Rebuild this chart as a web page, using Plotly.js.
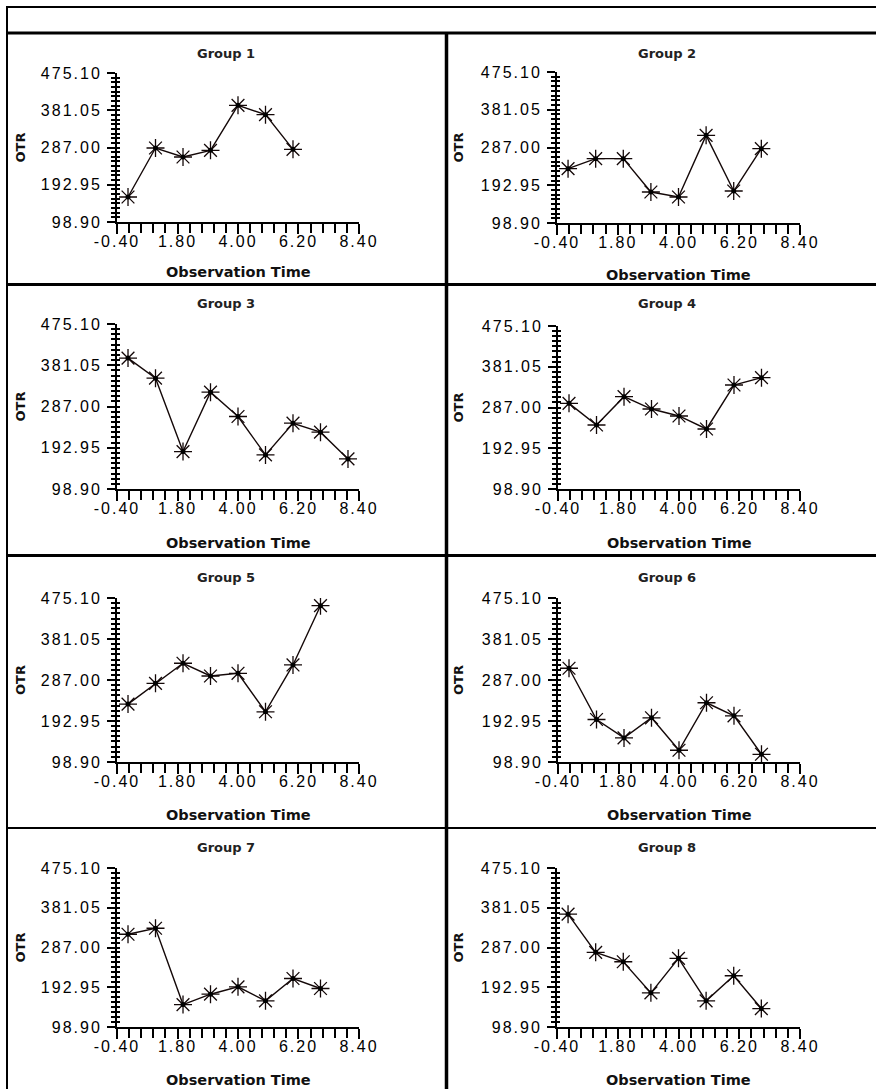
<!DOCTYPE html>
<html>
<head>
<meta charset="utf-8">
<script src="https://cdn.plot.ly/plotly-3.0.1.min.js"></script>
<style>
  html, body { margin: 0; padding: 0; background: #fff; }
  #chart { width: 876px; height: 1089px; }
  g[class$="tick"] text { letter-spacing: 2px; }
</style>
</head>
<body>
<div id="chart"></div>
<script>
// ---- data ----
const obsTime = [0, 1, 2, 3, 4, 5, 6, 7, 8];
const groupNames = ["Group 1", "Group 2", "Group 3", "Group 4", "Group 5", "Group 6", "Group 7", "Group 8"];
const group1 = [162.0, 285.7, 263.0, 279.8, 393.5, 369.9, 282.4];
const group2 = [234.3, 259.2, 259.2, 176.1, 163.7, 317.3, 178.6, 284.1];
const group3 = [397.4, 351.7, 184.2, 319.7, 264.2, 176.6, 248.9, 228.4, 167.4];
const group4 = [296.6, 246.6, 312.0, 283.5, 267.4, 237.4, 338.9, 355.9];
const group5 = [231.7, 279.3, 325.4, 296.2, 302.4, 214.1, 321.5, 457.5];
const group6 = [313.9, 196.4, 154.2, 200.3, 125.8, 234.8, 204.9, 116.6];
const group7 = [318.3, 332.5, 152.0, 176.5, 193.9, 160.7, 213.7, 190.0];
const group8 = [365.8, 275.5, 253.3, 179.7, 261.3, 160.7, 220.1, 142.5];
const xTickVals = [-0.4, 1.8, 4.0, 6.2, 8.4];
const xTickText = ["-0.40", "1.80", "4.00", "6.20", "8.40"];
const yTickVals = [98.90, 192.95, 287.00, 381.05, 475.10];
const yTickText = ["98.90", "192.95", "287.00", "381.05", "475.10"];
const xTitle = "Observation Time";
const yTitle = "OTR";

const groups = [group1, group2, group3, group4, group5, group6, group7, group8];

// ---- layout geometry (pixels) ----
const W = 876, H = 1089;
// plot areas: [left, right, top, bottom]
const areas = [
  [117, 359, 73, 222], [557, 800, 72, 223],
  [117, 359, 324, 489], [558, 800, 326, 489],
  [117, 359, 598, 762], [558, 800, 598, 762],
  [117, 359, 868, 1027], [557, 800, 868, 1027]
];
// title centres [x, y], x-title y, y-title x
const titlePos = [
  [226, 53], [667, 53], [226, 303], [667, 303],
  [226, 577], [667, 577], [226, 847], [667, 847]
];
const xTitleY = [272, 275, 543, 543, 815, 815, 1080, 1080];
const yTitleX = [20, 458, 20, 458, 20, 458, 20, 458];

const px = x => x / W;
const py = y => 1 - y / H;

const traces = [];
const layout = {
  width: W, height: H,
  margin: {l: 0, r: 0, t: 0, b: 0},
  paper_bgcolor: "#fff", plot_bgcolor: "rgba(0,0,0,0)",
  showlegend: false,
  font: {family: "Liberation Sans, Arial, sans-serif", color: "#000", size: 16},
  annotations: [], shapes: []
};

const xRange = [xTickVals[0] - 0.0005, xTickVals[xTickVals.length - 1] + 0.0005];
const yRange = [yTickVals[0] - 0.02, yTickVals[yTickVals.length - 1] + 0.02];
const tickFont = {family: "Liberation Sans, Arial, sans-serif", size: 16, color: "#000"};

groups.forEach((vals, i) => {
  const n = i + 1;
  const [l, r, t, b] = areas[i];
  const xs = obsTime.slice(0, vals.length);
  traces.push({
    x: xs, y: vals, xaxis: "x" + n, yaxis: "y" + n,
    mode: "lines+markers", type: "scatter",
    line: {color: "#140808", width: 1.4},
    marker: {symbol: "asterisk-open", size: 15, line: {color: "#140808", width: 1.3}},
    hoverinfo: "skip"
  });
  traces.push({
    x: xs, y: vals, xaxis: "x" + n, yaxis: "y" + n,
    mode: "markers", type: "scatter",
    marker: {symbol: "circle", size: 5, color: "#000"},
    hoverinfo: "skip"
  });
  layout["xaxis" + n] = {
    domain: [px(l), px(r)], anchor: "y" + n, range: xRange,
    tickmode: "array", tickvals: xTickVals, ticktext: xTickText,
    ticks: "outside", ticklen: 10, tickwidth: 2, tickcolor: "#000",
    minor: {tick0: -0.4, dtick: 0.44, ticks: "outside", ticklen: 9, tickwidth: 2, tickcolor: "#000"},
    showline: true, linecolor: "#000", linewidth: 2,
    showgrid: false, zeroline: false, fixedrange: true,
    ticklabelstandoff: -6,
    tickfont: tickFont
  };
  layout["yaxis" + n] = {
    domain: [py(b), py(t)], anchor: "x" + n, range: yRange,
    tickmode: "array", tickvals: yTickVals, ticktext: yTickText,
    ticks: "outside", ticklen: 8, tickwidth: 2, tickcolor: "#000",
    minor: {tick0: 98.9, dtick: 94.05 / 8, ticks: "outside", ticklen: 4, tickwidth: 2, tickcolor: "#000"},
    showline: true, linecolor: "#000", linewidth: 2,
    showgrid: false, zeroline: false, fixedrange: true,
    ticklabelstandoff: 2,
    tickfont: tickFont
  };
  // overlay y axis for inside tick stubs (ticks crossing the axis line)
  layout["yaxis" + (n + 8)] = {
    overlaying: "y" + n, anchor: "x" + n, range: yRange, side: "left",
    tickmode: "array", tickvals: yTickVals, showticklabels: false,
    ticks: "inside", ticklen: 3, tickwidth: 2, tickcolor: "#000",
    minor: {tick0: 98.9, dtick: 94.05 / 8, ticks: "inside", ticklen: 3, tickwidth: 2, tickcolor: "#000"},
    showline: false, showgrid: false, zeroline: false, fixedrange: true
  };

  layout.annotations.push({
    text: groupNames[i], xref: "paper", yref: "paper",
    x: px(titlePos[i][0]), y: py(titlePos[i][1]), xanchor: "center", yanchor: "middle",
    showarrow: false, font: {family: "DejaVu Sans", size: 13, color: "#222", weight: "bold"}
  });
  layout.annotations.push({
    text: xTitle, xref: "paper", yref: "paper",
    x: px((l + r) / 2), y: py(xTitleY[i]), xanchor: "center", yanchor: "middle",
    showarrow: false, font: {family: "DejaVu Sans", size: 14.5, color: "#111", weight: "bold"}
  });
  layout.annotations.push({
    text: yTitle, xref: "paper", yref: "paper", textangle: -90,
    x: px(yTitleX[i]), y: py((t + b) / 2), xanchor: "center", yanchor: "middle",
    showarrow: false, font: {family: "DejaVu Sans", size: 13, color: "#111", weight: "bold"}
  });
});

// dummy traces for overlay axes so they render
for (let n = 1; n <= 8; n++) {
  traces.push({x: [], y: [], xaxis: "x" + n, yaxis: "y" + (n + 8), type: "scatter", mode: "markers", hoverinfo: "skip"});
}

// frame lines
const line = (x0, y0, x1, y1, w) => ({
  type: "line", xref: "paper", yref: "paper",
  x0: px(x0), y0: py(y0), x1: px(x1), y1: py(y1),
  line: {color: "#000", width: w}
});
layout.shapes.push(line(7, 7, 880, 7, 2));
layout.shapes.push(line(7, 6, 7, 1095, 2));
layout.shapes.push(line(7, 33, 880, 33, 3));
layout.shapes.push(line(446.5, 33, 446.5, 1095, 3.5));
layout.shapes.push(line(7, 284.5, 880, 284.5, 3));
layout.shapes.push(line(7, 555.5, 880, 555.5, 3));
layout.shapes.push(line(7, 828, 880, 828, 2));

Plotly.newPlot("chart", traces, layout, {displayModeBar: false, staticPlot: true});
</script>
</body>
</html>
